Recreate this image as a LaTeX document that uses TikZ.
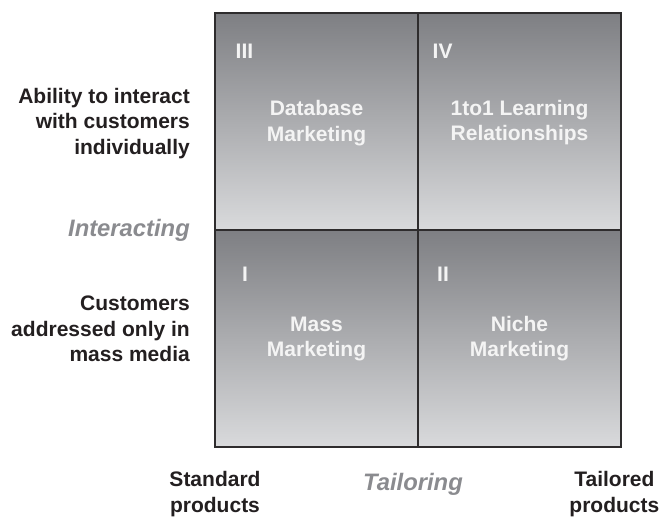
\documentclass[tikz,border=0pt]{standalone}
\usepackage{fontspec}
\setmainfont{Liberation Sans}
\begin{document}
\definecolor{celltop}{HTML}{7E7F83}
\definecolor{cellbot}{HTML}{D9DADC}
\definecolor{frame}{HTML}{2E2C2D}
\definecolor{ink}{HTML}{231F20}
\definecolor{axisgrey}{HTML}{8A8B8F}
\definecolor{celltext}{HTML}{F4F4F4}
\begin{tikzpicture}[x=1pt,y=-1pt,
  cell/.style={top color=celltop,bottom color=cellbot,draw=frame,line width=1.1pt},
  bigfont/.style={font=\bfseries\fontsize{21}{25.5}\selectfont},
  celllabel/.style={bigfont,text=celltext,align=center,inner sep=0pt,anchor=base},
  numeral/.style={bigfont,text=celltext,inner sep=0pt,anchor=base west},
  sidelabel/.style={bigfont,text=ink,inner sep=0pt},
  axislabel/.style={font=\bfseries\itshape\fontsize{23.8}{28}\selectfont,text=axisgrey,inner sep=0pt}]
\useasboundingbox (0,0) rectangle (660,517);
% four quadrants
\path[cell] (215,13) rectangle (418,230);
\path[cell] (418,13) rectangle (621,230);
\path[cell] (215,230) rectangle (418,447);
\path[cell] (418,230) rectangle (621,447);
% quadrant numbers
\node[numeral] (n3) at (235.5,58) {III};
\node[numeral] (n4) at (432.5,58) {IV};
\node[numeral] (n1) at (242,281.5) {I};
\node[numeral] (n2) at (437,281.5) {II};
% quadrant titles (base anchor sits on the last line)
\node[celllabel] (db) at (316.5,141) {Database\\Marketing};
\node[celllabel] (oto) at (519.5,140.7) {1to1 Learning\\Relationships};
\node[celllabel] (mass) at (316.5,356.7) {Mass\\Marketing};
\node[celllabel] (niche) at (519.5,356.7) {Niche\\Marketing};
% vertical axis labels
\node[sidelabel,align=right,anchor=base east] (ability) at (190,154) {Ability to interact\\with customers\\individually};
\node[axislabel,anchor=base east] (interacting) at (190,236.7) {Interacting};
\node[sidelabel,align=right,anchor=base east] (cust) at (190,361.7) {Customers\\addressed only in\\mass media};
% horizontal axis labels
\node[sidelabel,align=center,anchor=base] (std) at (215,512.3) {Standard\\products};
\node[axislabel,anchor=base] (tailoring) at (413,490.5) {Tailoring};
\node[sidelabel,align=center,anchor=base east] (tail) at (659.5,512.3) {Tailored\\products};
\end{tikzpicture}
\end{document}
